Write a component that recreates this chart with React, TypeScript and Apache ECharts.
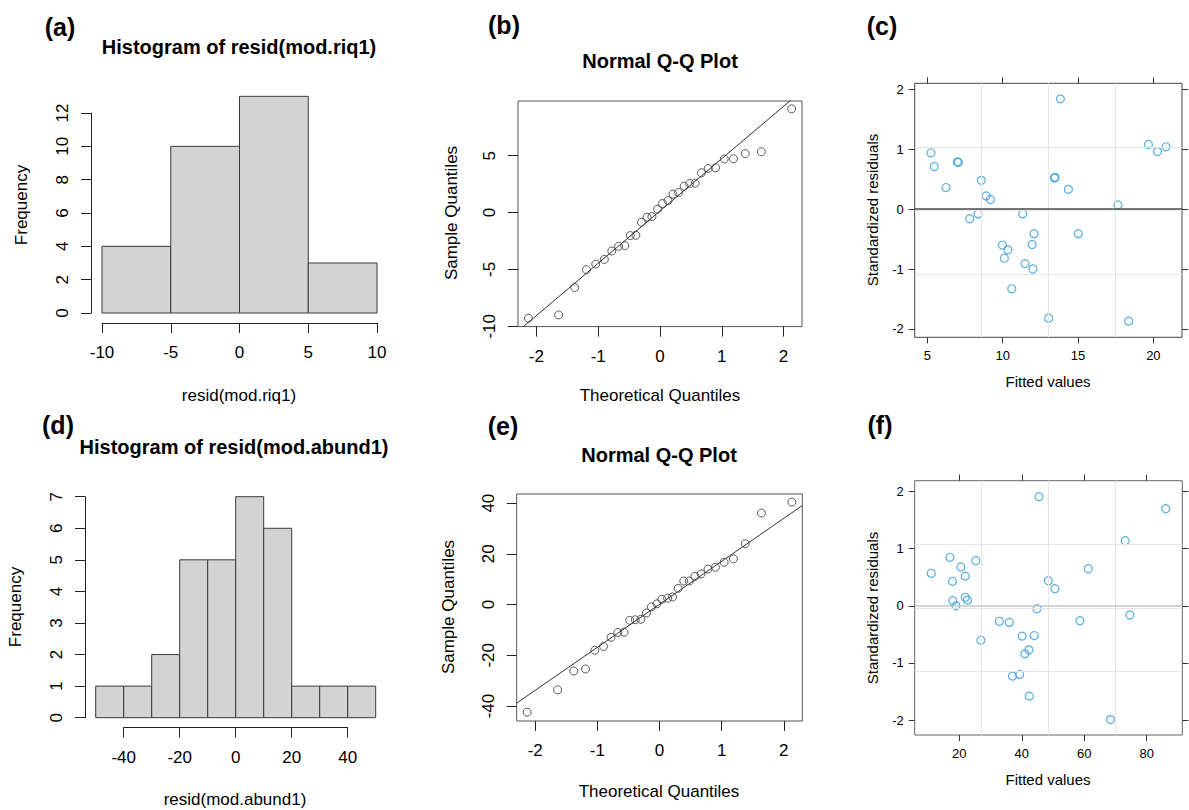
import React, { useEffect, useRef } from "react";
import * as echarts from "echarts";

const FONT = '"Liberation Sans", Arial, Helvetica, sans-serif';

// ---- (a) histogram of resid(mod.riq1) ----
const RIQ_BREAKS = [-10, -5, 0, 5, 10];
const RIQ_COUNTS = [4, 10, 13, 3];
const RIQ_HIST_X_TICKS = [-10, -5, 0, 5, 10];
const RIQ_HIST_Y_TICKS = [0, 2, 4, 6, 8, 10, 12];

// ---- (d) histogram of resid(mod.abund1) ----
const ABUND_BREAKS = [-50, -40, -30, -20, -10, 0, 10, 20, 30, 40, 50];
const ABUND_COUNTS = [1, 1, 2, 5, 5, 7, 6, 1, 1, 1];
const ABUND_HIST_X_TICKS = [-40, -20, 0, 20, 40];
const ABUND_HIST_Y_TICKS = [0, 1, 2, 3, 4, 5, 6, 7];

// ---- (b), (e) normal Q-Q plots ----
const THEORETICAL_Q = [
  -2.13, -1.64, -1.38, -1.19, -1.04, -0.9, -0.78, -0.67, -0.57, -0.48,
  -0.39, -0.3, -0.21, -0.13, -0.04, 0.04, 0.13, 0.21, 0.3, 0.39,
  0.48, 0.57, 0.67, 0.78, 0.9, 1.04, 1.19, 1.38, 1.64, 2.13,
];
const RIQ_SAMPLE_Q = [
  -9.29, -9.0, -6.59, -5.02, -4.53, -4.12, -3.38, -2.97, -2.91, -2.03,
  -2.0, -0.85, -0.41, -0.35, 0.29, 0.79, 1.06, 1.62, 1.76, 2.32,
  2.56, 2.58, 3.5, 3.88, 3.94, 4.71, 4.73, 5.18, 5.35, 9.12,
];
const ABUND_SAMPLE_Q = [
  -42.4, -33.6, -26.2, -25.4, -18.0, -16.5, -12.9, -11.0, -10.9, -6.2,
  -6.0, -5.8, -3.3, -0.9, 0.3, 2.1, 2.5, 3.0, 6.4, 9.3,
  9.3, 11.1, 12.1, 14.0, 14.7, 16.7, 18.0, 24.0, 36.1, 40.4,
];
const RIQ_QQLINE = { intercept: 0.14, slope: 4.6 };
const ABUND_QQLINE = { intercept: 0.1, slope: 16.95 };
const QQ_X_TICKS = [-2, -1, 0, 1, 2];
const RIQ_QQ_Y_TICKS = [-10, -5, 0, 5];
const ABUND_QQ_Y_TICKS = [-40, -20, 0, 20, 40];

// ---- (c), (f) standardized residuals vs fitted values ----
const RIQ_FITTED = [
  5.24, 5.46, 6.24, 6.99, 7.06, 7.81, 8.36, 8.58, 8.89, 9.18,
  9.98, 10.11, 10.35, 10.6, 11.33, 11.48, 11.95, 12.01, 12.08, 13.05,
  13.43, 13.47, 13.83, 14.36, 15.02, 17.65, 18.36, 19.67, 20.27, 20.84,
];
const RIQ_STD_RESID = [
  0.94, 0.71, 0.36, 0.79, 0.78, -0.16, -0.08, 0.48, 0.22, 0.16,
  -0.6, -0.82, -0.68, -1.33, -0.08, -0.91, -0.59, -1.0, -0.41, -1.82,
  0.52, 0.53, 1.84, 0.33, -0.41, 0.07, -1.87, 1.08, 0.96, 1.04,
];
const ABUND_FITTED = [
  11.0, 17.0, 17.8, 17.9, 18.9, 20.5, 21.9, 21.9, 22.6, 25.3,
  26.9, 32.8, 36.0, 37.0, 39.3, 40.1, 41.0, 42.3, 42.4, 44.0,
  44.9, 45.5, 48.5, 50.6, 58.6, 61.3, 68.4, 73.1, 74.6, 86.1,
];
const ABUND_STD_RESID = [
  0.57, 0.85, 0.43, 0.09, 0.0, 0.68, 0.52, 0.15, 0.1, 0.79,
  -0.6, -0.27, -0.29, -1.23, -1.2, -0.53, -0.84, -0.77, -1.58, -0.52,
  -0.05, 1.91, 0.44, 0.3, -0.26, 0.65, -1.99, 1.14, -0.16, 1.7,
];
const RIQ_FIT_X_TICKS = [5, 10, 15, 20];
const ABUND_FIT_X_TICKS = [20, 40, 60, 80];
const RESID_Y_TICKS = [-2, -1, 0, 1, 2];

// ---- panel geometry (px) and axis limits ----
const GRIDS = [
  { left: 102, top: 113, width: 275, height: 200 }, // a
  { left: 518, top: 101, width: 284, height: 225.6 }, // b
  { left: 914.7, top: 83.3, width: 267.3, height: 254 }, // c
  { left: 123.7, top: 496.7, width: 224, height: 221 }, // d
  { left: 516.7, top: 494, width: 285.6, height: 227 }, // e
  { left: 914.7, top: 480.7, width: 267.6, height: 254.3 }, // f
];
const LIMITS = {
  a: { x: [-10, 10], y: [0, 12] },
  b: { x: [-2.298, 2.298], y: [-10.03, 9.81] },
  c: { x: [4.16, 21.9], y: [-2.14, 2.1] },
  d: { x: [-40, 40], y: [0, 7] },
  e: { x: [-2.298, 2.298], y: [-45.9, 43.6] },
  f: { x: [5.7, 91.4], y: [-2.26, 2.19] },
};

const AXIS_COLOR = "#222";
const POINT_BLUE = "#2f9bd8";

function baseX(gridIndex: number, lim: number[], ticks: number[], offset: number, showLine: boolean) {
  return {
    type: "value",
    gridIndex,
    min: lim[0],
    max: lim[1],
    position: "bottom",
    offset,
    axisLine: { show: showLine, onZero: false, lineStyle: { color: AXIS_COLOR, width: 1 } },
    axisTick: { show: true, length: 10, customValues: ticks, lineStyle: { color: AXIS_COLOR, width: 1 } },
    axisLabel: { show: true, customValues: ticks, margin: 21, fontSize: 17, color: "#000", fontFamily: FONT },
    splitLine: { show: false },
  };
}

function baseY(gridIndex: number, lim: number[], ticks: number[], offset: number, showLine: boolean) {
  return {
    type: "value",
    gridIndex,
    min: lim[0],
    max: lim[1],
    position: "left",
    offset,
    axisLine: { show: showLine, onZero: false, lineStyle: { color: AXIS_COLOR, width: 1 } },
    axisTick: { show: true, length: 10, customValues: ticks, lineStyle: { color: AXIS_COLOR, width: 1 } },
    axisLabel: {
      show: true,
      customValues: ticks,
      rotate: 90,
      margin: 20,
      fontSize: 17,
      color: "#000",
      fontFamily: FONT,
    },
    splitLine: { show: false },
  };
}

function latticeX(gridIndex: number, lim: number[], ticks: number[], position: string) {
  return {
    type: "value",
    gridIndex,
    min: lim[0],
    max: lim[1],
    position,
    axisLine: { show: false, onZero: false },
    axisTick: { show: true, length: 6, customValues: ticks, lineStyle: { color: "#333", width: 1 } },
    axisLabel: {
      show: position === "bottom",
      customValues: ticks,
      margin: 12,
      fontSize: 13,
      color: "#000",
      fontFamily: FONT,
    },
    splitLine: { show: false },
  };
}

function latticeY(gridIndex: number, lim: number[], ticks: number[], position: string) {
  return {
    type: "value",
    gridIndex,
    min: lim[0],
    max: lim[1],
    position,
    axisLine: { show: false, onZero: false },
    axisTick: { show: true, length: 6, customValues: ticks, lineStyle: { color: "#333", width: 1 } },
    axisLabel: {
      show: position === "left",
      customValues: ticks,
      margin: 11,
      fontSize: 13,
      color: "#000",
      fontFamily: FONT,
    },
    splitLine: { show: false },
  };
}

function histSeries(axisIndex: number, breaks: number[], counts: number[]) {
  return {
    type: "custom",
    xAxisIndex: axisIndex,
    yAxisIndex: axisIndex,
    clip: false,
    silent: true,
    data: counts.map((c, i) => [breaks[i], breaks[i + 1], c]),
    encode: { x: [0, 1], y: 2 },
    renderItem: (_params: any, api: any) => {
      const top = api.coord([api.value(0), api.value(2)]);
      const bottom = api.coord([api.value(1), 0]);
      return {
        type: "rect",
        shape: { x: top[0], y: top[1], width: bottom[0] - top[0], height: bottom[1] - top[1] },
        style: { fill: "#d3d3d3", stroke: "#3a3a3a", lineWidth: 1 },
      };
    },
  };
}

function qqSeries(axisIndex: number, sample: number[], line: { intercept: number; slope: number }, xLim: number[]) {
  return [
    {
      type: "scatter",
      xAxisIndex: axisIndex,
      yAxisIndex: axisIndex,
      silent: true,
      symbol: "circle",
      symbolSize: 8,
      data: THEORETICAL_Q.map((q, i) => [q, sample[i]]),
      itemStyle: { color: "rgba(0,0,0,0)", borderColor: "#333", borderWidth: 1 },
    },
    {
      type: "line",
      xAxisIndex: axisIndex,
      yAxisIndex: axisIndex,
      silent: true,
      showSymbol: false,
      symbol: "none",
      clip: true,
      data: xLim.map((x) => [x, line.intercept + line.slope * x]),
      lineStyle: { color: "#333", width: 1 },
    },
  ];
}

// lattice panel.grid: lines dividing the panel into quarters
function quarters(lim: number[]) {
  const step = (lim[1] - lim[0]) / 4;
  return [1, 2, 3].map((k) => lim[0] + k * step);
}

function residSeries(
  axisIndex: number,
  fitted: number[],
  resid: number[],
  lim: { x: number[]; y: number[] },
  zeroColor: string
) {
  const gridStyle = { color: "#e6e6e6", width: 1, type: "solid" };
  return {
    type: "scatter",
    xAxisIndex: axisIndex,
    yAxisIndex: axisIndex,
    silent: true,
    symbol: "circle",
    symbolSize: 8,
    data: fitted.map((f, i) => [f, resid[i]]),
    itemStyle: { color: "rgba(0,0,0,0)", borderColor: POINT_BLUE, borderWidth: 1.2 },
    markLine: {
      silent: true,
      symbol: ["none", "none"],
      label: { show: false },
      animation: false,
      data: [
        ...quarters(lim.x).map((v) => ({ xAxis: v, lineStyle: gridStyle })),
        ...quarters(lim.y).map((v) => ({ yAxis: v, lineStyle: gridStyle })),
        { yAxis: 0, lineStyle: { color: zeroColor, width: 1.6, type: "solid" } },
      ],
    },
  };
}

type Label = { text: string; x: number; y: number; size: number; bold?: boolean; rotate?: boolean };

const LABELS: Label[] = [
  { text: "(a)", x: 60, y: 27, size: 25, bold: true },
  { text: "(b)", x: 504, y: 25, size: 25, bold: true },
  { text: "(c)", x: 882, y: 26, size: 25, bold: true },
  { text: "(d)", x: 58, y: 425, size: 25, bold: true },
  { text: "(e)", x: 503, y: 426, size: 25, bold: true },
  { text: "(f)", x: 880, y: 425, size: 25, bold: true },
  { text: "Histogram of resid(mod.riq1)", x: 239, y: 47, size: 20, bold: true },
  { text: "Normal Q-Q Plot", x: 660, y: 61, size: 20, bold: true },
  { text: "Histogram of resid(mod.abund1)", x: 234, y: 447, size: 20, bold: true },
  { text: "Normal Q-Q Plot", x: 659, y: 455, size: 20, bold: true },
  { text: "Frequency", x: 21, y: 205, size: 17, rotate: true },
  { text: "resid(mod.riq1)", x: 239, y: 395, size: 17 },
  { text: "Sample Quantiles", x: 451, y: 213, size: 17, rotate: true },
  { text: "Theoretical Quantiles", x: 660, y: 395, size: 17 },
  { text: "Standardized residuals", x: 872, y: 210, size: 15, rotate: true },
  { text: "Fitted values", x: 1048, y: 381, size: 15 },
  { text: "Frequency", x: 15, y: 607, size: 17, rotate: true },
  { text: "resid(mod.abund1)", x: 235, y: 799, size: 17 },
  { text: "Sample Quantiles", x: 448, y: 607, size: 17, rotate: true },
  { text: "Theoretical Quantiles", x: 659, y: 791, size: 17 },
  { text: "Standardized residuals", x: 872, y: 608, size: 15, rotate: true },
  { text: "Fitted values", x: 1048, y: 779, size: 15 },
];

export default function App() {
  const ref = useRef<HTMLDivElement>(null);

  useEffect(() => {
    if (!ref.current) return;
    const chart = echarts.init(ref.current, undefined, { renderer: "svg" });

    const boxed = (g: any, color: string) => ({
      ...g,
      show: true,
      backgroundColor: "rgba(0,0,0,0)",
      borderColor: color,
      borderWidth: 1,
      containLabel: false,
      outerBoundsMode: "none",
    });
    const plain = (g: any) => ({ ...g, show: false, containLabel: false, outerBoundsMode: "none" });

    const option: any = {
      animation: false,
      backgroundColor: "#ffffff",
      textStyle: { fontFamily: FONT },
      grid: [
        plain(GRIDS[0]),
        boxed(GRIDS[1], "#555"),
        boxed(GRIDS[2], "#444"),
        plain(GRIDS[3]),
        boxed(GRIDS[4], "#555"),
        boxed(GRIDS[5], "#666"),
      ],
      xAxis: [
        baseX(0, LIMITS.a.x, RIQ_HIST_X_TICKS, 10, true),
        baseX(1, LIMITS.b.x, QQ_X_TICKS, 0, false),
        latticeX(2, LIMITS.c.x, RIQ_FIT_X_TICKS, "bottom"),
        latticeX(2, LIMITS.c.x, RIQ_FIT_X_TICKS, "top"),
        baseX(3, LIMITS.d.x, ABUND_HIST_X_TICKS, 10, true),
        baseX(4, LIMITS.e.x, QQ_X_TICKS, 0, false),
        latticeX(5, LIMITS.f.x, ABUND_FIT_X_TICKS, "bottom"),
        latticeX(5, LIMITS.f.x, ABUND_FIT_X_TICKS, "top"),
      ],
      yAxis: [
        baseY(0, LIMITS.a.y, RIQ_HIST_Y_TICKS, 11, true),
        baseY(1, LIMITS.b.y, RIQ_QQ_Y_TICKS, 0, false),
        latticeY(2, LIMITS.c.y, RESID_Y_TICKS, "left"),
        latticeY(2, LIMITS.c.y, RESID_Y_TICKS, "right"),
        baseY(3, LIMITS.d.y, ABUND_HIST_Y_TICKS, 38.7, true),
        baseY(4, LIMITS.e.y, ABUND_QQ_Y_TICKS, 0, false),
        latticeY(5, LIMITS.f.y, RESID_Y_TICKS, "left"),
        latticeY(5, LIMITS.f.y, RESID_Y_TICKS, "right"),
      ],
      series: [
        { ...histSeries(0, RIQ_BREAKS, RIQ_COUNTS), xAxisIndex: 0, yAxisIndex: 0 },
        ...qqSeries(1, RIQ_SAMPLE_Q, RIQ_QQLINE, LIMITS.b.x),
        residSeries(2, RIQ_FITTED, RIQ_STD_RESID, LIMITS.c, "#4a4a4a"),
        { ...histSeries(4, ABUND_BREAKS, ABUND_COUNTS), xAxisIndex: 4, yAxisIndex: 4 },
        ...qqSeries(5, ABUND_SAMPLE_Q, ABUND_QQLINE, LIMITS.e.x),
        residSeries(6, ABUND_FITTED, ABUND_STD_RESID, LIMITS.f, "#c4c4c4"),
      ],
      graphic: LABELS.map((l) => ({
        type: "text",
        x: l.x,
        y: l.y,
        rotation: l.rotate ? Math.PI / 2 : 0,
        silent: true,
        style: {
          text: l.text,
          fill: "#000",
          fontSize: l.size,
          fontWeight: l.bold ? "bold" : "normal",
          fontFamily: FONT,
          align: "center",
          verticalAlign: "middle",
          textAlign: "center",
          textVerticalAlign: "middle",
        },
      })),
    };

    chart.setOption(option);
    return () => chart.dispose();
  }, []);

  return (
    <div
      ref={ref}
      style={{ position: "absolute", left: 0, top: 0, width: 1189, height: 810, background: "#fff" }}
    />
  );
}
